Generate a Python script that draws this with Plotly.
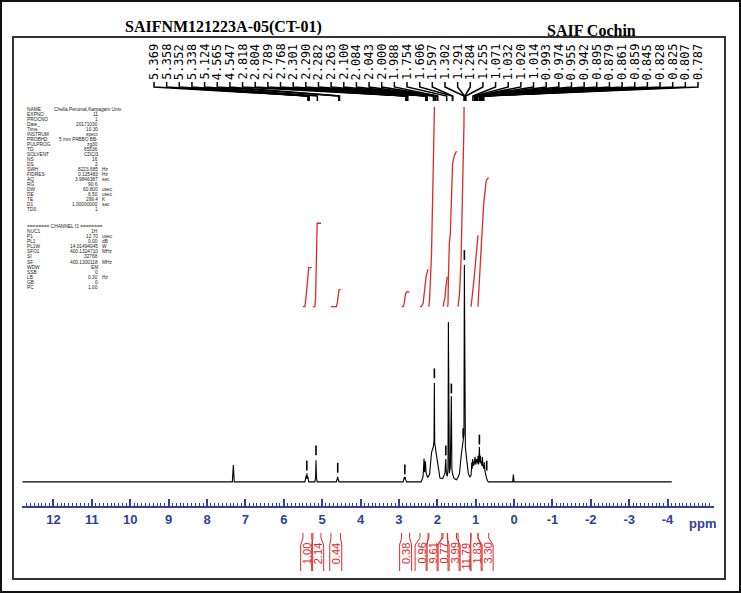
import numpy as np
import plotly.graph_objects as go

W, H = 741, 593

# ---------------- data ----------------
spec_ppm = [
    12.81, 7.34, 7.313, 7.29,
    5.45, 5.415, 5.405, 5.395, 5.385, 5.375, 5.35,
    5.19, 5.17, 5.159, 5.148, 5.13,
    4.63, 4.605, 4.594, 4.583, 4.56,
    2.89, 2.865, 2.855, 2.845, 2.835, 2.825, 2.80,
    2.42, 2.37, 2.345, 2.33, 2.31, 2.29, 2.25, 2.20, 2.15, 2.12, 2.10, 2.085, 2.076, 2.067, 2.04, 2.015, 1.97, 1.93,
    1.86, 1.80, 1.777, 1.765, 1.74, 1.72, 1.711, 1.70, 1.685, 1.66, 1.633, 1.62, 1.60, 1.56, 1.50,
    1.45, 1.42, 1.38, 1.35, 1.325, 1.305, 1.294, 1.283, 1.268, 1.233, 1.19, 1.15,
    1.12, 1.10, 1.09, 1.077, 1.06, 1.042, 1.03, 1.016, 1.00, 0.99, 0.975, 0.964, 0.95, 0.938, 0.921, 0.903,
    0.89, 0.877, 0.865, 0.851, 0.838, 0.825, 0.81, 0.799, 0.785, 0.773, 0.76, 0.747, 0.73, 0.712, 0.69, 0.67,
    0.035, 0.017, 0.00,
    -4.11,
]
spec_int = [
    0, 0, 7.7, 0,
    0, 3.0, 1.5, 4.0, 1.5, 2.5, 0,
    0, 2.0, 10.0, 2.0, 0,
    0, 1.2, 2.3, 1.2, 0,
    0, 1.5, 2.3, 1.2, 2.2, 1.0, 0,
    0, 2.5, 10.8, 4.5, 9.5, 4.0, 2.0, 3.5, 13.5, 15.5, 16.5, 19.0, 45.6, 18.0, 14.5, 11.5, 5.5, 1.8,
    1.5, 4.0, 10.5, 4.0, 2.5, 6.0, 73.7, 6.0, 4.0, 7.0, 39.5, 6.0, 3.5, 1.5, 1.0,
    2.5, 4.0, 11.5, 16.0, 18.0, 22.0, 100.0, 22.0, 16.0, 10.0, 3.8, 2.3,
    3.0, 9.0, 6.0, 10.5, 7.5, 8.0, 9.0, 11.5, 8.0, 8.5, 10.5, 9.5, 8.5, 12.0, 8.0, 16.1,
    9.0, 12.0, 8.5, 9.5, 7.5, 11.5, 7.0, 7.5, 6.0, 9.0, 5.0, 3.8, 2.0, 1.5, 0.5, 0,
    0, 3.4, 0,
    0,
]

pick_ppm = [5.40, 5.159, 4.594, 2.845, 2.076, 1.777, 1.633, 1.325, 1.294, 0.903, 0.712]
pick_int = [7.5, 14.5, 6.5, 5.8, 50.0, 14.5, 43.0, 22.5, 104.5, 19.5, 7.5]

peak_labels = [5.369, 5.358, 5.352, 5.338, 5.124, 4.565, 4.547, 2.818, 2.804, 2.789, 2.768,
               2.301, 2.290, 2.282, 2.263, 2.100, 2.084, 2.043, 2.000, 1.988, 1.754, 1.606,
               1.597, 1.302, 1.291, 1.284, 1.255, 1.071, 1.032, 1.020, 1.014, 0.993, 0.974,
               0.955, 0.942, 0.895, 0.879, 0.861, 0.859, 0.845, 0.828, 0.825, 0.807, 0.787]

integral_start = [5.50, 5.24, 4.77, 2.93, 2.45, 2.22, 1.85, 1.73, 1.46, 1.12, 0.94]
integral_end = [5.27, 5.03, 4.52, 2.72, 2.24, 1.88, 1.74, 1.50, 1.13, 0.94, 0.66]
integral_values = [1.00, 2.14, 0.44, 0.38, 0.96, 9.61, 0.77, 3.99, 11.79, 1.83, 3.30]

tick_vals = [12, 11, 10, 9, 8, 7, 6, 5, 4, 3, 2, 1, 0, -1, -2, -3, -4]
tick_text = ["12", "11", "10", "9", "8", "7", "6", "5", "4", "3", "2", "1", "0", "-1", "-2", "-3", "-4"]

params_1 = [
    ("NAME", "Chella Perumal,Karpagam Univ", ""),
    ("EXPNO", "11", ""), ("PROCNO", "1", ""), ("Date_", "20171030", ""),
    ("Time", "10.30", ""), ("INSTRUM", "spect", ""), ("PROBHD", "5 mm PABBO BB-", ""),
    ("PULPROG", "zg30", ""), ("TD", "65536", ""), ("SOLVENT", "CDCl3", ""),
    ("NS", "16", ""), ("DS", "2", ""), ("SWH", "8223.685", "Hz"), ("FIDRES", "0.125483", "Hz"),
    ("AQ", "3.9846387", "sec"), ("RG", "90.6", ""), ("DW", "60.800", "usec"),
    ("DE", "6.50", "usec"), ("TE", "299.4", "K"), ("D1", "1.00000000", "sec"), ("TD0", "1", ""),
]
params_2 = [
    ("NUC1", "1H", ""), ("P1", "12.70", "usec"), ("PL1", "0.00", "dB"),
    ("PL1W", "14.01494045", "W"), ("SFO1", "400.1324710", "MHz"), ("SI", "32768", ""),
    ("SF", "400.1300118", "MHz"), ("WDW", "EM", ""), ("SSB", "0", ""), ("LB", "0.30", "Hz"),
    ("GB", "0", ""), ("PC", "1.00", ""),
]

# ---------------- layout helpers ----------------
X0_PX, X1_PX = 22, 714
PPM_L, PPM_R = 12.82, -5.21
BLUE = "#2f3f9a"
RED = "#dd2a2a"


def px2ppm(px):
    return PPM_L + (px - X0_PX) * (PPM_R - PPM_L) / (X1_PX - X0_PX)


def ppm2px(p):
    return X0_PX + (p - PPM_L) * (X1_PX - X0_PX) / (PPM_R - PPM_L)


def spread(centers, gap):
    clusters = [[c] for c in centers]

    def positions(cl):
        m = sum(cl) / len(cl)
        return [m - (len(cl) - 1) / 2 * gap + k * gap for k in range(len(cl))]

    changed = True
    while changed:
        changed = False
        for i in range(len(clusters) - 1):
            if positions(clusters[i])[-1] + gap > positions(clusters[i + 1])[0]:
                clusters[i] = clusters[i] + clusters[i + 1]
                del clusters[i + 1]
                changed = True
                break
    out = []
    for cl in clusters:
        out += positions(cl)
    return out


fig = go.Figure()

# spectrum
fig.add_trace(go.Scatter(x=spec_ppm, y=spec_int, mode="lines",
                         line=dict(color="black", width=1.1), xaxis="x", yaxis="y",
                         hoverinfo="skip"))
# peak-pick marks
fig.add_trace(go.Scatter(x=pick_ppm, y=pick_int, mode="markers",
                         marker=dict(symbol="line-ns", size=7, line=dict(color="black", width=1.6)),
                         xaxis="x", yaxis="y", hoverinfo="skip"))

# integral curves (cumulative integral of the spectrum inside each region)
sp = np.array(spec_ppm)
si = np.array(spec_int)
ix, iy = [], []
for s, e, v in zip(integral_start, integral_end, integral_values):
    inner = (sp < s) & (sp > e)
    xs = np.concatenate([[s], sp[inner], [e]])
    ys = np.concatenate([[np.interp(s, sp[::-1], si[::-1])], si[inner],
                         [np.interp(e, sp[::-1], si[::-1])]])
    area = np.concatenate([[0.0], np.cumsum(0.5 * (ys[1:] + ys[:-1]) * (xs[:-1] - xs[1:]))])
    curve = area / area[-1] * v
    ix += list(xs) + [None]
    iy += list(curve) + [None]
fig.add_trace(go.Scatter(x=ix, y=iy, mode="lines", line=dict(color=RED, width=1.3),
                         xaxis="x", yaxis="y3", hoverinfo="skip"))

# peak label leaders
lab_px = np.linspace(154, 698, len(peak_labels))
fx, fy = [], []
for lp, pk in zip(lab_px, peak_labels):
    lx = px2ppm(lp)
    fx += [lx, lx, pk, pk, None]
    fy += [82, 87, 96, 101, None]
fig.add_trace(go.Scatter(x=fx, y=fy, mode="lines", line=dict(color="black", width=1.5),
                         xaxis="x", yaxis="y2", hoverinfo="skip"))

# integral brackets below axis
centers = [(ppm2px(s) + ppm2px(e)) / 2 for s, e in zip(integral_start, integral_end)]
lab_c = spread(centers, 11.0)
bx, by = [], []
hw = 6
for s, e, c in zip(integral_start, integral_end, lab_c):
    bx += [s, s, px2ppm(c - hw), px2ppm(c - hw), None, e, e, px2ppm(c + hw), px2ppm(c + hw), None]
    by += [533, 538, 545, 571, None, 533, 538, 545, 571, None]
fig.add_trace(go.Scatter(x=bx, y=by, mode="lines", line=dict(color=RED, width=1),
                         xaxis="x", yaxis="y2", hoverinfo="skip"))

ann = []
for lp, pk in zip(lab_px, peak_labels):
    ann.append(dict(x=px2ppm(lp), y=81, xref="x", yref="y2", text=f"{pk:.3f}", showarrow=False,
                    textangle=-90, xanchor="center", yanchor="bottom", borderpad=0,
                    font=dict(family="DejaVu Sans Mono", size=12, color="black")))
for c, v in zip(lab_c, integral_values):
    ann.append(dict(x=px2ppm(c), y=542, xref="x", yref="y2", text=f"{v:.2f}", showarrow=False,
                    textangle=-90, xanchor="center", yanchor="top", borderpad=0,
                    font=dict(family="Liberation Sans", size=11, color=RED)))

# titles
ann.append(dict(x=223.5 / W, y=1 - 27 / H, xref="paper", yref="paper", text="SAIFNM121223A-05(CT-01)",
                showarrow=False, xanchor="center", yanchor="middle",
                font=dict(family="Liberation Serif", size=16, color="black", weight="bold")))
ann.append(dict(x=591 / W, y=1 - 30.5 / H, xref="paper", yref="paper", text="SAIF Cochin",
                showarrow=False, xanchor="center", yanchor="middle",
                font=dict(family="Liberation Serif", size=16, color="black", weight="bold")))
ann.append(dict(x=702 / W, y=1 - 523 / H, xref="paper", yref="paper", text="ppm", showarrow=False,
                xanchor="center", yanchor="middle",
                font=dict(family="Liberation Sans", size=13, color=BLUE, weight="bold")))

# acquisition parameter text
pf = dict(family="Liberation Sans", size=4.8, color="#222222")


def add_row(yp, label, value, unit, value_left=False):
    ann.append(dict(x=26 / W, y=1 - yp / H, xref="paper", yref="paper", text=label, showarrow=False,
                    xanchor="left", yanchor="middle", borderpad=0, font=pf))
    if value_left:
        ann.append(dict(x=53 / W, y=1 - yp / H, xref="paper", yref="paper", text=value, showarrow=False,
                        xanchor="left", yanchor="middle", borderpad=0, font=pf))
    else:
        ann.append(dict(x=99 / W, y=1 - yp / H, xref="paper", yref="paper", text=value, showarrow=False,
                        xanchor="right", yanchor="middle", borderpad=0, font=pf))
    if unit:
        ann.append(dict(x=101 / W, y=1 - yp / H, xref="paper", yref="paper", text=unit, showarrow=False,
                        xanchor="left", yanchor="middle", borderpad=0, font=pf))


for i, (l, v, u) in enumerate(params_1):
    add_row(110 + i * 4.95, l, v, u, value_left=(i == 0))
ann.append(dict(x=26 / W, y=1 - 226 / H, xref="paper", yref="paper",
                text="======== CHANNEL f1 ========", showarrow=False, xanchor="left", yanchor="middle",
                borderpad=0, font=pf))
for i, (l, v, u) in enumerate(params_2):
    add_row(231.2 + i * 5.15, l, v, u)

shapes = [
    dict(type="rect", xref="paper", yref="paper", x0=1 / W, x1=1 - 1 / W, y0=1 / H, y1=1 - 1 / H,
         line=dict(color="#111111", width=2)),
    dict(type="rect", xref="paper", yref="paper", x0=13 / W, x1=725 / W, y0=1 - 579 / H, y1=1 - 37 / H,
         line=dict(color="#333333", width=2)),
]

fig.update_layout(
    width=W, height=H, autosize=False,
    margin=dict(l=0, r=0, t=0, b=0),
    paper_bgcolor="white", plot_bgcolor="rgba(0,0,0,0)",
    showlegend=False,
    xaxis=dict(domain=[X0_PX / W, X1_PX / W], range=[PPM_L, PPM_R], anchor="free", position=1 - 507 / H,
               showline=True, linecolor=BLUE, linewidth=2, ticks="inside", ticklen=7, tickwidth=1.5,
               tickcolor=BLUE, tickmode="array", tickvals=tick_vals, ticktext=tick_text,
               tickfont=dict(family="Liberation Sans", size=13, color=BLUE, weight="bold"),
               minor=dict(ticks="inside", ticklen=3.5, tickwidth=1, tickcolor=BLUE, dtick=0.1, tick0=0,
                          showgrid=False),
               showgrid=False, zeroline=False, fixedrange=True),
    yaxis=dict(domain=[0, 1], range=[-51.2, 222.0], visible=False, fixedrange=True),
    yaxis2=dict(overlaying="y", range=[H, 0], visible=False, fixedrange=True),
    yaxis3=dict(domain=[1 - 320 / H, 1 - 107 / H], range=[-0.341, 5.121], visible=False,
                anchor="x", fixedrange=True),
    annotations=ann,
    shapes=shapes,
)

fig.write_html("out.html", config={"displayModeBar": False},
               post_script="document.body.style.margin='0';document.body.style.overflow='hidden';")
